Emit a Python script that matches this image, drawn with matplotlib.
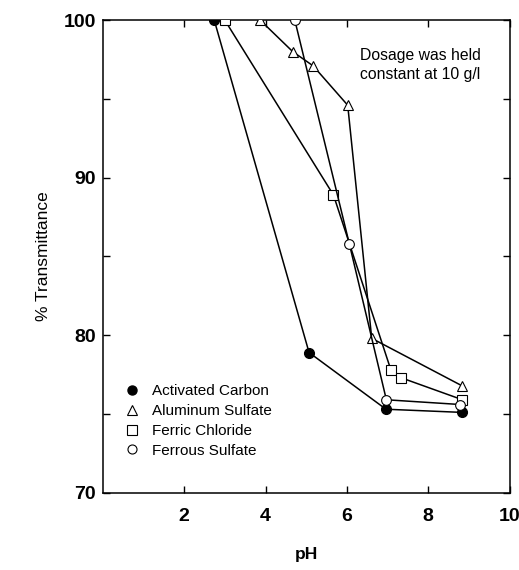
import matplotlib
matplotlib.use("Agg")
import matplotlib.pyplot as plt
from matplotlib.lines import Line2D

plt.rcParams['font.family'] = ['Liberation Sans', 'DejaVu Sans']

# pH vs % transmittance for each coagulant
carbon_x = [2.74, 5.07, 6.96, 8.82]
carbon_y = [100.0, 78.9, 75.3, 75.1]

alum_x = [3.87, 4.67, 5.17, 6.02, 6.61, 8.82]
alum_y = [100.0, 98.0, 97.1, 94.6, 79.8, 76.8]

ferric_x = [3.0, 5.67, 7.08, 7.33, 8.84]
ferric_y = [100.0, 88.9, 77.8, 77.3, 75.9]

ferrous_x = [4.72, 6.06, 6.97, 8.78]
ferrous_y = [100.0, 85.8, 75.9, 75.6]

names = ['Activated Carbon', 'Aluminum Sulfate', 'Ferric Chloride', 'Ferrous Sulfate']

fig = plt.figure(figsize=(5.19, 5.70), dpi=100)
ax = fig.add_axes([0.198, 0.1356, 0.784, 0.829])

lw = 1.1
ms = 7
ax.plot(carbon_x, carbon_y, '-', color='black', lw=lw, marker='o', ms=ms, mfc='black', mec='black', zorder=3)
ax.plot(alum_x, alum_y, '-', color='black', lw=lw, marker='^', ms=ms, mfc='white', mec='black', mew=0.8, zorder=3)
ax.plot(ferric_x, ferric_y, '-', color='black', lw=lw, marker='s', ms=ms, mfc='white', mec='black', mew=0.8, zorder=3)
ax.plot(ferrous_x, ferrous_y, '-', color='black', lw=lw, marker='o', ms=ms, mfc='white', mec='black', mew=0.8, zorder=3)

ax.set_xlim(0, 10)
ax.set_ylim(70, 100)
ax.set_xticks([2, 4, 6, 8, 10])
ax.set_yticks([70, 80, 90, 100])
ax.set_yticks([75, 85, 95], minor=True)

ax.tick_params(which='both', direction='in', top=True, right=True, length=5, width=1)
ax.tick_params(axis='x', pad=11, labelsize=14)
ax.tick_params(axis='y', pad=5, labelsize=14)
for lab in ax.get_xticklabels() + ax.get_yticklabels():
    lab.set_fontweight('bold')
for sp in ax.spines.values():
    sp.set_linewidth(1.1)

ax.set_ylabel('% Transmittance', fontsize=12.5, labelpad=9)
ax.set_xlabel('pH', fontsize=12.5, fontweight='bold', labelpad=16)

ax.text(0.633, 0.905, 'Dosage was held\nconstant at 10 g/l', transform=ax.transAxes,
        fontsize=11.3, ha='left', va='center', linespacing=1.3)

handles = [
    Line2D([], [], ls='none', marker='o', ms=6.5, mfc='black', mec='black'),
    Line2D([], [], ls='none', marker='^', ms=6.5, mfc='white', mec='black', mew=0.8),
    Line2D([], [], ls='none', marker='s', ms=6.5, mfc='white', mec='black', mew=0.8),
    Line2D([], [], ls='none', marker='o', ms=6.5, mfc='white', mec='black', mew=0.8),
]
ax.legend(handles, names, loc='lower left', bbox_to_anchor=(0.02, 0.045), frameon=False,
          fontsize=11, handlelength=1.0, handletextpad=0.8, labelspacing=0.38)

fig.savefig('out.png', dpi=100)
